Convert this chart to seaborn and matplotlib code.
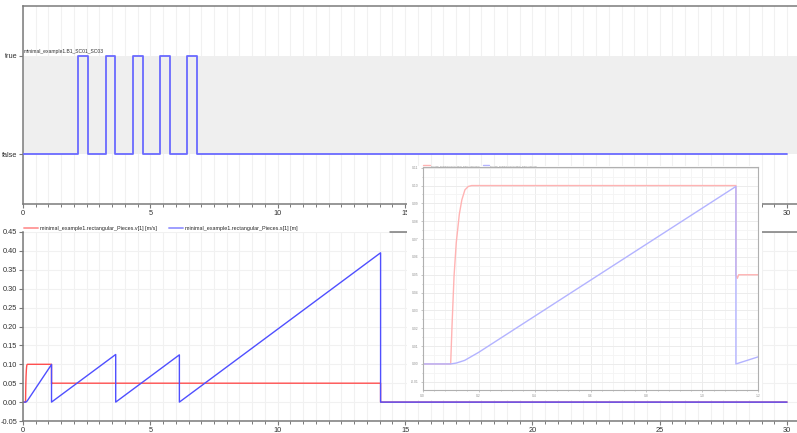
import numpy as np
import pandas as pd
import seaborn as sns
import matplotlib.pyplot as plt
from matplotlib.patches import Rectangle
from matplotlib.ticker import MultipleLocator, FormatStrFormatter

# boolean signal B1_SC01_SC03 (switch times, steps-post)
switch_t = [0, 2.17, 2.57, 3.24, 3.63, 4.30, 4.71, 5.36, 5.77, 6.42, 6.85, 30]
switch_val = [0, 1, 0, 1, 0, 1, 0, 1, 0, 1, 0, 0]

# rectangular_Pieces.v[1] [m/s]
v_t = [0, 0.10, 0.105, 0.112, 0.12, 0.131, 0.14, 0.151, 0.163, 0.175,
       1.12, 1.12, 1.125, 1.13, 14.04, 14.04, 30]
v_val = [0, 0, 0.022, 0.049, 0.068, 0.084, 0.092, 0.0976, 0.0995, 0.1,
         0.1, 0.05, 0.048, 0.05, 0.05, 0, 0]

# rectangular_Pieces.s[1] [m]
s_t = [0, 0.10, 0.12, 0.15, 0.20, 1.12, 1.12, 3.64, 3.64, 6.14, 6.14, 14.04, 14.04, 30]
s_val = [0, 0, 0.0005, 0.002, 0.0065, 0.0995, 0, 0.126, 0, 0.125, 0, 0.395, 0, 0]

v_name = "minimal_example1.rectangular_Pieces.v[1] [m/s]"
s_name = "minimal_example1.rectangular_Pieces.s[1] [m]"

sns.set_style('white')
plt.rcParams['font.family'] = ['Liberation Sans', 'DejaVu Sans']

W, H = 797, 433
fig = plt.figure(figsize=(W / 100, H / 100), dpi=100)

spine_col = '#7a7a7a'
grid_col = '#f1f1f1'
red = '#ff4f4f'
blue = '#4f4fff'


def style_axis(ax, fs=5.3):
    for side in ['left', 'bottom', 'top']:
        ax.spines[side].set_color(spine_col)
        ax.spines[side].set_linewidth(1.1)
    ax.spines['right'].set_visible(False)
    ax.tick_params(which='major', length=3, width=0.8, color=spine_col,
                   labelsize=fs, labelcolor='#303030', pad=1.2)
    ax.tick_params(which='minor', length=2, width=0.7, color=spine_col)
    ax.tick_params(axis='x', which='both', bottom=True)
    ax.tick_params(axis='y', which='major', left=True)


# --- top panel: boolean signal ---
ax1 = fig.add_axes([23 / W, 229 / H, 774 / W, 198 / H])
ax1.set_xlim(0, 30.39)
ax1.set_ylim(-0.51, 1.51)
ax1.set_axisbelow(True)
ax1.xaxis.set_major_locator(MultipleLocator(5))
ax1.xaxis.set_minor_locator(MultipleLocator(0.5))
ax1.grid(which='both', axis='x', color=grid_col, lw=0.8)
ax1.axhspan(0, 1, color='#efefef', zorder=1, lw=0)
sns.lineplot(x=switch_t, y=switch_val, drawstyle='steps-post', color='#6a6aff',
             lw=1.3, ax=ax1, estimator=None, sort=False, zorder=3)
ax1.set_yticks([0, 1], ['false', 'true'])
style_axis(ax1)
ax1.text(0.04, 1.025, "minimal_example1.B1_SC01_SC03", fontsize=3.6,
         va='bottom', ha='left', color='#303030')

# --- bottom panel: v and s ---
ax2 = fig.add_axes([23 / W, 12 / H, 774 / W, 189 / H])
ax2.set_xlim(0, 30.39)
ax2.set_ylim(-0.05, 0.45)
ax2.set_axisbelow(True)
ax2.xaxis.set_major_locator(MultipleLocator(5))
ax2.xaxis.set_minor_locator(MultipleLocator(0.5))
ax2.yaxis.set_major_locator(MultipleLocator(0.05))
ax2.yaxis.set_major_formatter(FormatStrFormatter('%.2f'))
ax2.grid(which='both', axis='x', color=grid_col, lw=0.8)
ax2.grid(which='major', axis='y', color=grid_col, lw=0.8)
sns.lineplot(x=v_t, y=v_val, color=red, lw=1.0, ax=ax2, estimator=None,
             sort=False, label=v_name)
sns.lineplot(x=s_t, y=s_val, color=blue, lw=1.0, ax=ax2, estimator=None,
             sort=False, label=s_name)
style_axis(ax2)
ax2.spines['top'].set_visible(False)
ax2.axhline(0.45, xmin=0.474, xmax=1, color=spine_col, lw=1.1, clip_on=False)
leg = ax2.legend(loc='lower left', bbox_to_anchor=(0, 1.0), ncol=2, frameon=False,
                 fontsize=3.9, handlelength=2.6, handletextpad=0.4, columnspacing=2.2,
                 borderaxespad=0.15, borderpad=0)
for h in leg.get_lines():
    h.set_alpha(0.55)
    h.set_linewidth(1.4)

# --- pasted zoom view (inset) ---
fig.add_artist(Rectangle((407 / W, 33 / H), 355 / W, 234 / H, transform=fig.transFigure,
                         facecolor='white', edgecolor='none', zorder=3))
ax3 = fig.add_axes([422.7 / W, 43 / H, 335.6 / W, 223 / H], zorder=4)
ax3.set_xlim(0, 1.2)
ax3.set_ylim(-0.0146, 0.1104)
ax3.set_axisbelow(True)
ax3.xaxis.set_major_locator(MultipleLocator(0.2))
ax3.xaxis.set_minor_locator(MultipleLocator(0.04))
ax3.yaxis.set_major_locator(MultipleLocator(0.01))
ax3.yaxis.set_minor_locator(MultipleLocator(0.005))
ax3.xaxis.set_major_formatter(FormatStrFormatter('%.1f'))
ax3.yaxis.set_major_formatter(FormatStrFormatter('%.2f'))
ax3.grid(which='major', color='#ececec', lw=0.7)
ax3.grid(which='minor', color='#f4f4f4', lw=0.6)
sns.lineplot(x=v_t, y=v_val, color='#ffb3b3', lw=1.0, ax=ax3, estimator=None,
             sort=False, label=v_name)
sns.lineplot(x=s_t, y=s_val, color='#b3b3ff', lw=1.0, ax=ax3, estimator=None,
             sort=False, label=s_name)
for side in ['left', 'bottom', 'top', 'right']:
    ax3.spines[side].set_color('#b0b0b0')
    ax3.spines[side].set_linewidth(0.8)
ax3.tick_params(which='both', labelsize=2.4, labelcolor='#909090', color='#b0b0b0',
                length=1.5, width=0.5, pad=1.5, left=True, bottom=True)
ax3.tick_params(which='minor', length=1)
ax3.legend(loc='lower left', bbox_to_anchor=(0, 1.0), ncol=2, frameon=False,
           fontsize=1.6, handlelength=3, handletextpad=0.5, columnspacing=1.5,
           borderaxespad=0.15, borderpad=0, labelcolor='#909090')

fig.savefig('out.png', dpi=100)
